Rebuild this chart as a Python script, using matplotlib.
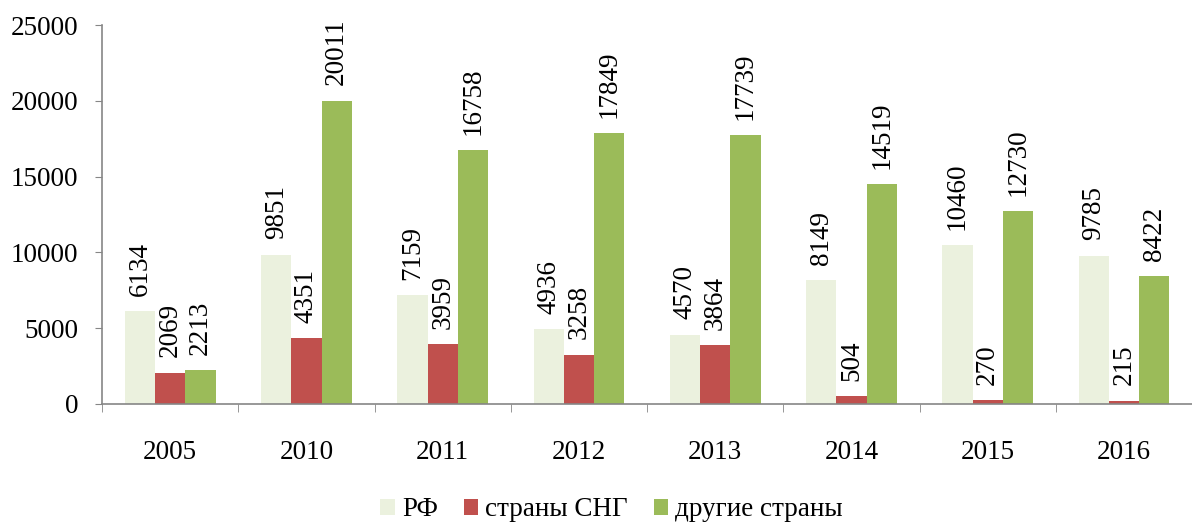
import matplotlib
matplotlib.use("Agg")
import matplotlib.pyplot as plt
import numpy as np
from matplotlib.patches import Patch

years = ["2005", "2010", "2011", "2012", "2013", "2014", "2015", "2016"]
rf = [6134, 9851, 7159, 4936, 4570, 8149, 10460, 9785]
cis = [2069, 4351, 3959, 3258, 3864, 504, 270, 215]
other = [2213, 20011, 16758, 17849, 17739, 14519, 12730, 8422]
series_names = ["РФ", "страны СНГ", "другие страны"]
colors = ["#EBF1DE", "#C0504D", "#9BBB59"]

plt.rcParams['font.family'] = ['Liberation Serif', 'DejaVu Serif']

fig = plt.figure(figsize=(11.92, 5.29), dpi=100)
ax = fig.add_axes([0.0856, 0.2363, 0.9144, 0.7164])

x = np.arange(len(years))
w = 0.222
for i, (vals, col) in enumerate(zip([rf, cis, other], colors)):
    pos = x + (i - 1) * w
    ax.bar(pos, vals, width=w, color=col, edgecolor='none')
    for px, v in zip(pos, vals):
        ax.annotate(str(v), (px, v), xytext=(0, 11), textcoords='offset points',
                    rotation=90, ha='center', va='bottom', fontsize=19.5)

ax.set_xlim(-0.5, len(years) - 0.5)
ax.set_ylim(0, 25000)
ax.set_yticks(range(0, 25001, 5000))
ax.tick_params(axis='y', labelsize=19.5, length=5, color='#868686', direction='out', pad=12)
ax.set_xticks(x)
ax.set_xticklabels(years)
ax.tick_params(axis='x', labelsize=19.5, length=0, pad=26)
ax.set_xticks(np.arange(-0.5, len(years), 1.0), minor=True)
ax.tick_params(axis='x', which='minor', length=6, color='#868686', direction='out')

for s in ['top', 'right']:
    ax.spines[s].set_visible(False)
for s in ['left', 'bottom']:
    ax.spines[s].set_color('#868686')
    ax.spines[s].set_linewidth(1.2)

handles = [Patch(facecolor=c, edgecolor='none') for c in colors]
fig.legend(handles, series_names, loc='center', bbox_to_anchor=(0.513, 0.036),
           ncol=3, frameon=False, fontsize=19.5, handlelength=0.55, handleheight=0.55,
           handletextpad=0.25, columnspacing=0.95)

fig.savefig("out.png", dpi=100)
